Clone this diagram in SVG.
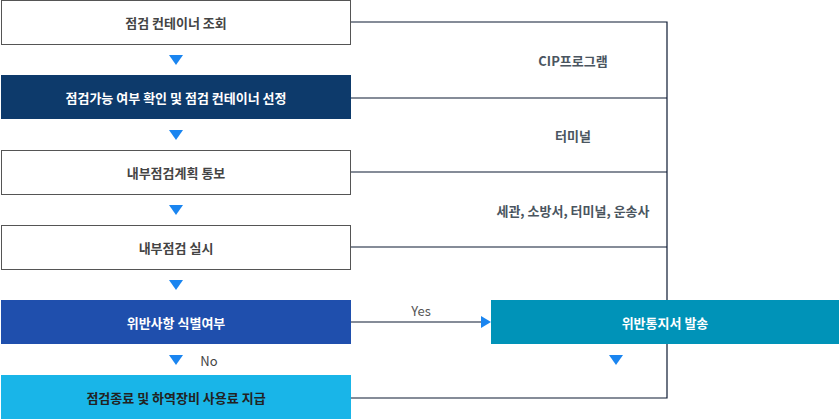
<svg xmlns="http://www.w3.org/2000/svg" width="839" height="420" viewBox="0 0 839 420">
<style>
text{font-family:"Noto Sans CJK KR","Noto Sans",sans-serif;font-size:13px;text-anchor:middle;dominant-baseline:central}
.w{fill:#fff;stroke:#555;stroke-width:1}
.tw{fill:#444;font-weight:bold}
.tl{fill:#fff;font-weight:bold}
.lbl{fill:#4a5560;font-weight:bold}
.ln{stroke:#0d1a33;stroke-width:1.2;fill:none}
.tri{fill:#1a85f0}
</style>
<g id="connectors">
<path class="ln" d="M351 22H667V398H351M351 98H667M351 172H667M351 247H667M351 322H482"/>
<polygon class="tri" points="481,316 491,322 481,328"/>
<polygon class="tri" points="169,55 183,55 176,65"/>
<polygon class="tri" points="169,130 183,130 176,140"/>
<polygon class="tri" points="169,205 183,205 176,215"/>
<polygon class="tri" points="169,280 183,280 176,290"/>
<polygon class="tri" points="169,355 183,355 176,365"/>
<polygon class="tri" points="609,355 623,355 616,365"/>
<text x="421" y="310" style="fill:#555">Yes</text>
<text x="209" y="360" style="fill:#444">No</text>
<text x="573" y="60" class="lbl">CIP프로그램</text>
<text x="573" y="135" class="lbl">터미널</text>
<text x="573" y="210" class="lbl">세관, 소방서, 터미널, 운송사</text>
</g>
<g id="n1"><rect class="w" x="1.5" y="0.5" width="349" height="44"/><text x="176" y="22" class="tw">점검 컨테이너 조회</text></g>
<g id="n2"><rect x="1" y="75" width="350" height="44" fill="#0d3a6b"/><text x="176" y="97" class="tl">점검가능 여부 확인 및 점검 컨테이너 선정</text></g>
<g id="n3"><rect class="w" x="1.5" y="150.5" width="349" height="44"/><text x="176" y="172" class="tw">내부점검계획 통보</text></g>
<g id="n4"><rect class="w" x="1.5" y="225.5" width="349" height="44"/><text x="176" y="247" class="tw">내부점검 실시</text></g>
<g id="n5"><rect x="1" y="300" width="350" height="44" fill="#1f4fad"/><text x="176" y="322" class="tl">위반사항 식별여부</text></g>
<g id="n6"><rect x="1" y="375" width="350" height="44" fill="#19b5e8"/><text x="176" y="397" style="fill:#222;font-weight:bold">점검종료 및 하역장비 사용료 지급</text></g>
<g id="n7"><rect x="491" y="300" width="348" height="44" fill="#0093b8"/><text x="665" y="322" class="tl">위반통지서 발송</text></g>
</svg>
